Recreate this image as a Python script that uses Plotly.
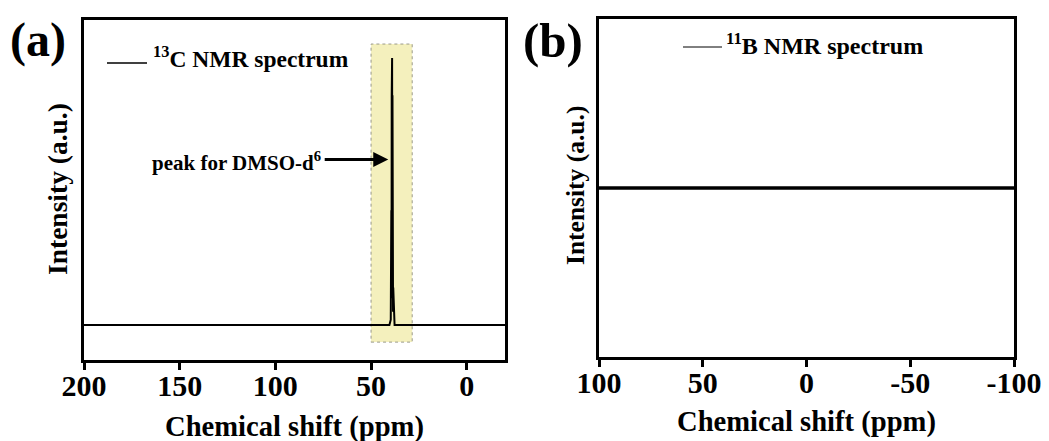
import plotly.graph_objects as go

# 13C spectrum: baseline plus the DMSO-d6 septet (relative intensities)
c13_ppm = [200, 40.4, 39.7, 39.6, 39.5, 39.4, 39.3, 39.2, 39.1, 39.0, 38.9, 38.8, 38.7, 38.6, 38.5, 38.4, 37.7, -20]
c13_int = [0.0, 0.0, 0.02, 0.14, 0.05, 0.43, 0.10, 0.86, 0.30, 1.00, 0.30, 0.86, 0.10, 0.43, 0.05, 0.14, 0.0, 0.0]

# 11B spectrum: flat baseline, no boron signal
b11_ppm = [100, 50, 0, -50, -100]
b11_int = [0.0, 0.0, 0.0, 0.0, 0.0]

c13_ticks = [200, 150, 100, 50, 0]
c13_ticktext = ["200", "150", "100", "50", "0"]
b11_ticks = [100, 50, 0, -50, -100]
b11_ticktext = ["100", "50", "0", "-50", "-100"]

# highlighted solvent region (ppm)
dmso_band = (50.0, 28.5)

FONT = "Liberation Serif, Times New Roman, serif"
W, H = 1049, 441

fig = go.Figure()
fig.add_trace(go.Scatter(x=c13_ppm, y=c13_int, mode="lines",
                         line=dict(color="black", width=2),
                         xaxis="x", yaxis="y", showlegend=False))
fig.add_trace(go.Scatter(x=b11_ppm, y=b11_int, mode="lines",
                         line=dict(color="black", width=3.4),
                         xaxis="x2", yaxis="y2", showlegend=False))

def px_x(v):
    return v / W

def px_y(v):
    return 1 - v / H

axis_common = dict(showline=True, linewidth=3, linecolor="black", mirror=True,
                   showgrid=False, zeroline=False, automargin=False)
tick_font = dict(family=FONT, size=30, color="black", weight="bold")

fig.update_layout(
    width=W, height=H,
    margin=dict(l=0, r=0, t=0, b=0, autoexpand=False),
    paper_bgcolor="white", plot_bgcolor="white",
    xaxis=dict(domain=[px_x(84), px_x(505)], range=[200, -20], anchor="y",
               tickvals=c13_ticks, ticktext=c13_ticktext,
               ticks="outside", ticklen=7, tickwidth=3, tickcolor="black",
               ticklabelstandoff=-10,
               tickfont=tick_font, **axis_common),
    yaxis=dict(domain=[px_y(360), px_y(20)], range=[-0.131, 1.142], anchor="x",
               showticklabels=False, ticks="", **axis_common),
    xaxis2=dict(domain=[px_x(599), px_x(1014)], range=[100, -100], anchor="y2",
                tickvals=b11_ticks, ticktext=b11_ticktext,
                ticks="outside", ticklen=7, tickwidth=3, tickcolor="black",
                ticklabelstandoff=-10,
                tickfont=tick_font, **axis_common),
    yaxis2=dict(domain=[px_y(357), px_y(19)], range=[-1, 1], anchor="x2",
                showticklabels=False, ticks="", **axis_common),
)

# solvent highlight band
fig.add_shape(type="rect", xref="x", yref="y",
              x0=dmso_band[0], x1=dmso_band[1], y0=-0.064, y1=1.052,
              fillcolor="#F4F0BD", line=dict(color="#9a9a8a", width=1, dash="dot"),
              layer="below")

# arrow pointing to the solvent peak
fig.add_annotation(xref="x", yref="y", x=41.0, y=0.62,
                   axref="x", ayref="y", ax=75.0, ay=0.62,
                   showarrow=True, arrowhead=2, arrowsize=1.0, arrowwidth=3,
                   arrowcolor="black", text="")

annotations = []

def txt(x, y, s, size, xanchor="center", yanchor="middle", angle=0):
    annotations.append(dict(xref="paper", yref="paper", x=px_x(x), y=px_y(y),
                            text=s, showarrow=False, xanchor=xanchor, yanchor=yanchor,
                            textangle=angle,
                            font=dict(family=FONT, size=size, color="black", weight="bold")))

txt(38, 40, "(a)", 48)
txt(553, 40, "(b)", 49)
txt(57, 189, "Intensity (a.u.)", 27.5, angle=-90)
txt(575, 186, "Intensity (a.u.)", 25.5, angle=-90)
txt(294, 427, "Chemical shift (ppm)", 28.6)
txt(806, 422, "Chemical shift (ppm)", 28.6)
txt(150, 162, "peak for DMSO-d<sup>6</sup>", 21, xanchor="left")
txt(151, 57, "<sup>13</sup>C NMR spectrum", 23.5, xanchor="left")
txt(724, 44, "<sup>11</sup>B NMR spectrum", 24, xanchor="left")

for a in annotations:
    fig.add_annotation(**a)

# legend sample lines
fig.add_shape(type="line", xref="paper", yref="paper",
              x0=px_x(107), x1=px_x(147), y0=px_y(63), y1=px_y(63),
              line=dict(color="black", width=1.5))
fig.add_shape(type="line", xref="paper", yref="paper",
              x0=px_x(683), x1=px_x(722), y0=px_y(47), y1=px_y(47),
              line=dict(color="black", width=1))

fig.write_html("out.html")
